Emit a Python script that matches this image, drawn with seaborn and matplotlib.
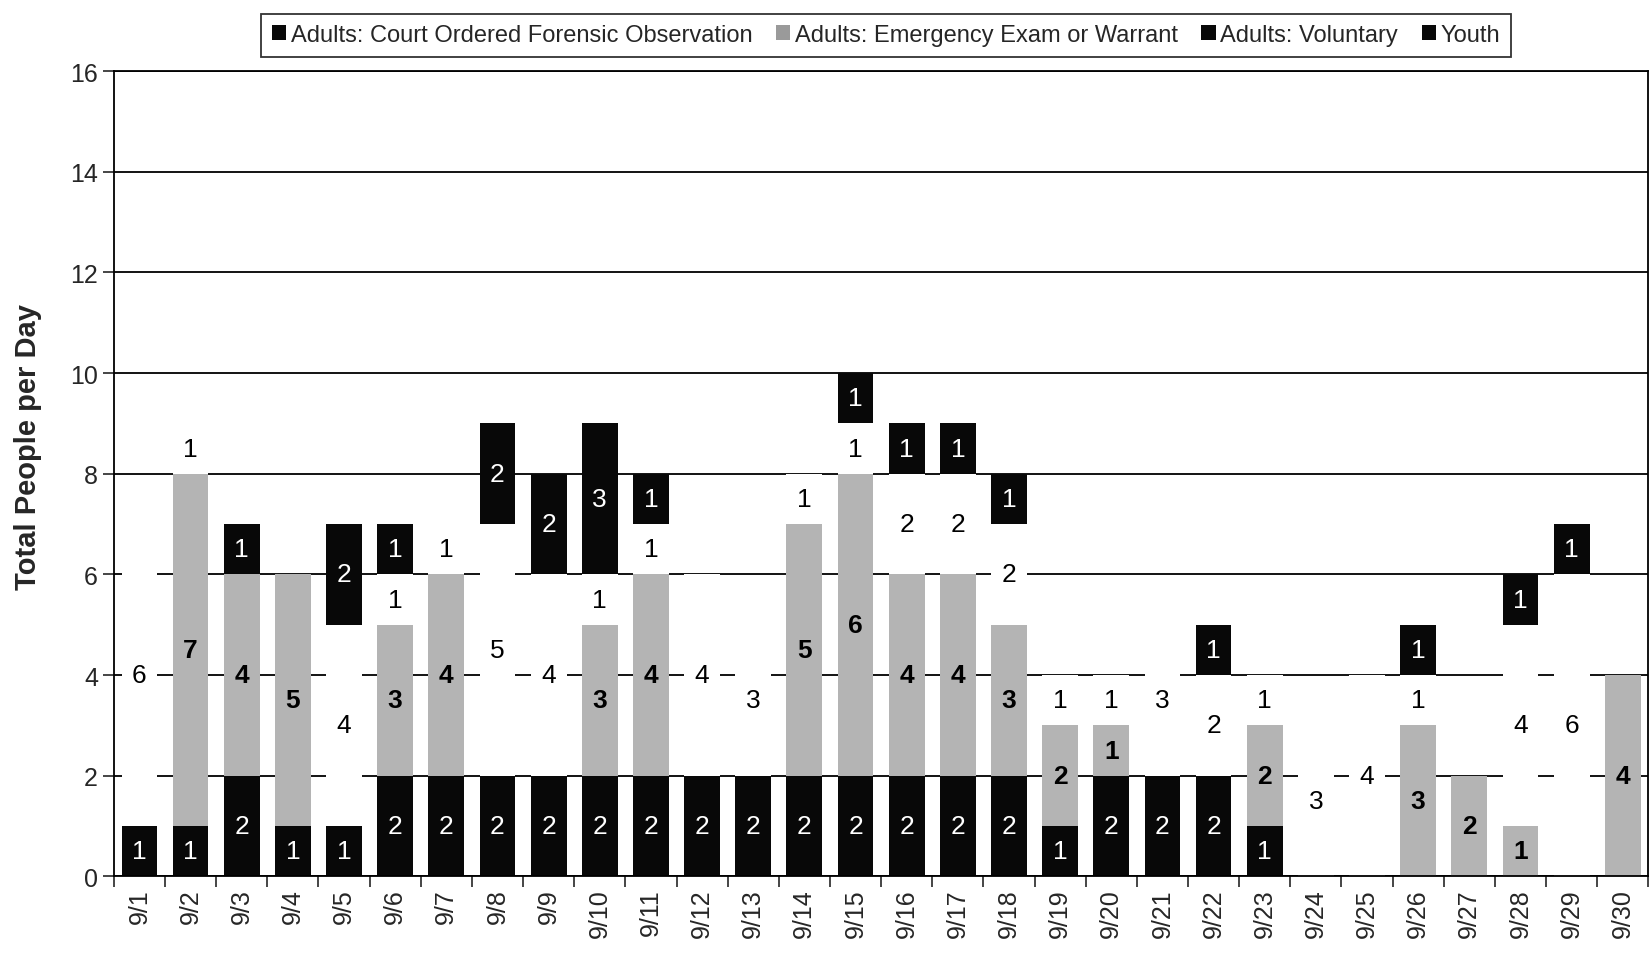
"""
Stacked daily census bars, September.
"""
import seaborn as sns
import matplotlib.pyplot as plt
import numpy as np
from matplotlib.patches import Patch

sns.set_style('white', {'axes.grid': True,
                        'grid.color': 'black',
                        'grid.linestyle': '-'})
plt.rcParams['font.family'] = ['Liberation Sans', 'DejaVu Sans']

days = [f"9/{d}" for d in range(1, 31)]
court = [1, 1, 2, 1, 1, 2, 2, 2, 2, 2, 2, 2, 2, 2, 2, 2, 2, 2, 1, 2, 2, 2, 1, 0, 0, 0, 0, 0, 0, 0]
emerg = [0, 7, 4, 5, 0, 3, 4, 0, 0, 3, 4, 0, 0, 5, 6, 4, 4, 3, 2, 1, 0, 0, 2, 0, 0, 3, 2, 1, 0, 4]
volun = [6, 1, 0, 0, 4, 1, 1, 5, 4, 1, 1, 4, 3, 1, 1, 2, 2, 2, 1, 1, 3, 2, 1, 3, 4, 1, 0, 4, 6, 0]
youth = [0, 0, 1, 0, 2, 1, 0, 2, 2, 3, 1, 0, 0, 0, 1, 1, 1, 1, 0, 0, 0, 1, 0, 0, 0, 1, 0, 1, 1, 0]

series = ["Adults: Court Ordered Forensic Observation",
          "Adults: Emergency Exam or Warrant",
          "Adults: Voluntary",
          "Youth"]
colors = ['#080808', '#b4b4b4', 'white', '#080808']
text_colors = ['white', 'black', 'black', 'white']
legend_colors = ['#080808', '#9a9a9a', '#080808', '#080808']

stack = np.array([court, emerg, volun, youth], dtype=float)
cum = stack.cumsum(axis=0)

fig = plt.figure(figsize=(16.5, 9.62), dpi=100)
ax = fig.add_axes([0.069, 0.088, 0.930, 0.837])

# draw cumulative totals from the top series down so each layer overlays
for i in range(3, -1, -1):
    sns.barplot(x=days, y=cum[i], color=colors[i], width=0.7,
                saturation=1, edgecolor='none', linewidth=0, ax=ax)

for i in range(4):
    for j in range(len(days)):
        v = stack[i, j]
        if v > 0:
            ax.text(j, cum[i, j] - v / 2, f"{int(v)}", ha='center', va='center',
                    fontsize=19, color=text_colors[i],
                    fontweight='bold' if i == 1 else 'normal')

ax.set_ylim(0, 16)
ax.set_xlim(-0.5, len(days) - 0.5)
ax.set_yticks(range(0, 17, 2))
ax.yaxis.grid(True, color='black', linewidth=1.3)
ax.xaxis.grid(False)
ax.set_axisbelow(True)
for s in ax.spines.values():
    s.set_color('black')
    s.set_linewidth(1.3)
ax.tick_params(axis='y', left=True, length=8, width=1.2, labelsize=18)
ax.tick_params(axis='x', bottom=False, labelsize=18, labelrotation=90, pad=5)
ax.set_xticks(np.arange(-0.5, len(days), 1), minor=True)
ax.tick_params(axis='x', which='minor', bottom=True, length=8, width=1.2)
ax.set_xlabel('')
ax.set_ylabel('Total People per Day', fontsize=21, fontweight='bold')
ax.yaxis.set_label_coords(-0.047, 0.535)

handles = [Patch(facecolor=c, edgecolor='none') for c in legend_colors]
leg = fig.legend(handles, series, loc='upper center', bbox_to_anchor=(0.537, 0.997),
                 ncol=4, fontsize=17, frameon=True, fancybox=False,
                 handlelength=0.6, handleheight=0.6, handletextpad=0.2,
                 columnspacing=1.0, borderpad=0.45)
leg.get_frame().set_edgecolor('black')
leg.get_frame().set_linewidth(1.3)

fig.savefig('out.png', dpi=100)
